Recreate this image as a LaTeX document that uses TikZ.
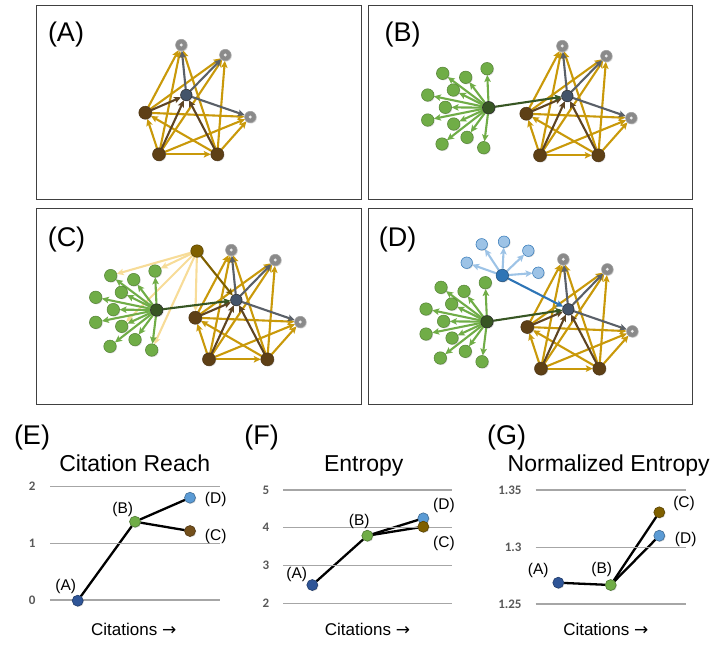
\documentclass[tikz,border=0pt]{standalone}
\usepackage{fontspec}
\setmainfont{Liberation Sans}
\newfontfamily\tickfont{Carlito}
\newfontfamily\symfont{DejaVu Sans}
\usetikzlibrary{arrows.meta,shadows}
\pgfdeclarelayer{pale}
\pgfdeclarelayer{edges}
\pgfsetlayers{pale,edges,main}
\definecolor{gold}{HTML}{C9990A}
\definecolor{paleg}{HTML}{F7DC98}
\definecolor{brownN}{HTML}{5E4016}
\definecolor{brownE}{HTML}{5E4423}
\definecolor{grayE}{HTML}{5A6068}
\definecolor{grayN}{HTML}{8A8A8A}
\definecolor{cblue}{HTML}{44546A}
\definecolor{greenL}{HTML}{70AD47}
\definecolor{greenD}{HTML}{548235}
\definecolor{greenH}{HTML}{375623}
\definecolor{blueH}{HTML}{2E75B6}
\definecolor{blueD}{HTML}{1F4E79}
\definecolor{blueL}{HTML}{9DC3E6}
\definecolor{oliveT}{HTML}{7F6000}
\definecolor{ptA}{HTML}{2F5597}
\definecolor{ptB}{HTML}{70AD47}
\definecolor{ptCE}{HTML}{74501C}
\definecolor{ptC}{HTML}{7F6000}
\definecolor{ptD}{HTML}{5B9BD5}
\definecolor{boxc}{HTML}{404040}
\definecolor{gridc}{HTML}{A6A6A6}
\definecolor{tickc}{HTML}{595959}
\tikzset{
  nd/.style={circle, inner sep=0pt, outer sep=0pt, line width=0.5pt,
    drop shadow={opacity=0.3, shadow xshift=0.8pt, shadow yshift=-0.8pt}},
  cnode/.style={nd, minimum size=11.5pt, fill=cblue, draw=black!85},
  gnode/.style={nd, minimum size=11.5pt, draw=gray!75, fill=grayN,
    path picture={\fill[white!85!gray] (path picture bounding box.center) circle (1.6pt);}},
  bnode/.style={nd, minimum size=13pt, fill=brownN, draw=brownN!80!black},
  leaf/.style={nd, minimum size=12.5pt, fill=greenL, draw=greenD},
  ghub/.style={nd, minimum size=12.5pt, fill=greenH, draw=black!85},
  bhub/.style={nd, minimum size=12.5pt, fill=blueH, draw=blueD},
  bleaf/.style={nd, minimum size=11.5pt, fill=blueL, draw=blueH},
  thub/.style={nd, minimum size=12.5pt, fill=oliveT, draw=oliveT!70!black},
  arr/.style={line width=2.1pt, -{Stealth[length=7pt,width=6.5pt,inset=1.5pt]}},
  ge/.style={arr, draw=gold},
  be/.style={arr, draw=brownE},
  ke/.style={arr, draw=grayE},
  gre/.style={arr, draw=greenL},
  hube/.style={arr, draw=greenH},
  ple/.style={arr, draw=paleg},
  ole/.style={arr, draw=oliveT},
  ble/.style={arr, draw=blueL},
  bme/.style={arr, draw=blueH},
  panelbox/.style={draw=boxc, line width=0.8pt},
  plab/.style={font=\fontsize{27}{30}\selectfont, anchor=base, inner sep=0pt},
  ctitle/.style={font=\fontsize{23}{26}\selectfont, anchor=base, inner sep=0pt},
  xlab/.style={font=\fontsize{17}{20}\selectfont, anchor=base, inner sep=0pt},
  ptlab/.style={font=\fontsize{15.5}{18}\selectfont, anchor=center, inner sep=0pt},
  tick/.style={font=\tickfont\bfseries\fontsize{13}{15}\selectfont, text=tickc, anchor=east, inner sep=0pt},
  gridl/.style={draw=gridc, line width=1.2pt},
  mk/.style={circle, inner sep=0pt, outer sep=0pt, minimum size=11pt, line width=0.6pt,
    drop shadow={opacity=0.3, shadow xshift=0.8pt, shadow yshift=-0.8pt}},
  dl/.style={line width=2.3pt, draw=black},
}
\newcommand\citecluster[3]{%
  \begin{scope}[shift={(#2,#3)}]
    \node[cnode] (#1c) at (0,0) {};
    \node[gnode] (#1g1) at (-5,-50) {};
    \node[gnode] (#1g2) at (39,-40) {};
    \node[gnode] (#1g3) at (64,22) {};
    \node[bnode] (#1L) at (-41,17.7) {};
    \node[bnode] (#1BL) at (-27.3,59.3) {};
    \node[bnode] (#1BR) at (31,59.3) {};
  \end{scope}
  \begin{pgfonlayer}{edges}
    \foreach \s in {L,BL,BR}{\foreach \t in {g1,g2,g3}{\draw[ge] (#1\s) -- (#1\t);}}
    \draw[ge] (#1BL) -- (#1L);
    \draw[ge] (#1BR) -- (#1L);
    \draw[ge] (#1BL) -- (#1BR);
    \foreach \s in {L,BL,BR}{\draw[be] (#1\s) -- (#1c);}
    \foreach \t in {g1,g2,g3}{\draw[ke] (#1c) -- (#1\t);}
  \end{pgfonlayer}}
\newcommand\greenfan[3]{%
  \begin{scope}[shift={(#2,#3)}]
    \node[ghub] (#1h) at (0,0) {};
    \foreach \i/\dx/\dy in {1/-46/-34.4, 2/-23/-30.4, 3/-1.7/-39, 4/-61/-12.7,
        5/-35.4/-17.7, 6/-43.4/-0.4, 7/-61/12.3, 8/-35/16.3, 9/-21.7/29.6,
        10/-46.7/36.3, 11/-5/40}{\node[leaf] (#1l\i) at (\dx,\dy) {};}
  \end{scope}
  \begin{pgfonlayer}{edges}
    \foreach \i in {1,...,11}{\draw[gre] (#1h) -- (#1l\i);}
  \end{pgfonlayer}}
\begin{document}
\begin{tikzpicture}[x=1pt,y=-1pt]
\useasboundingbox (0,0) rectangle (727,654);
% panel boxes
\draw[panelbox] (36,5) rectangle (361,199.5);
\draw[panelbox] (368,5) rectangle (692,199.5);
\draw[panelbox] (36,208) rectangle (361,404);
\draw[panelbox] (368,208) rectangle (692,404);
\node[plab] (la) at (66,41) {(A)};
\node[plab] (lb) at (402.7,41) {(B)};
\node[plab] (lc) at (66.5,246) {(C)};
\node[plab] (ld) at (397.7,246) {(D)};
% (A)
\citecluster{a}{186.3}{95}
% (B)
\citecluster{b}{567.3}{96}
\greenfan{bf}{488.7}{107.7}
\begin{pgfonlayer}{edges}\draw[hube] (bfh) -- (bc);\end{pgfonlayer}
% (C)
\citecluster{c}{236.3}{300}
\greenfan{cf}{156.7}{310}
\node[thub] (ct) at (197,251) {};
\begin{pgfonlayer}{edges}
  \draw[hube] (cfh) -- (cc);
  \draw[ole] (ct) -- (cc);
\end{pgfonlayer}
\begin{pgfonlayer}{pale}
  \draw[ple] (ct) -- (cfl1);
  \draw[ple] (ct) -- (cfl3);
  \draw[ple] (ct) -- (cfl8);
  \draw[ple] (ct) -- (cfl11);
  \draw[ple] (ct) -- (cL);
\end{pgfonlayer}
% (D)
\citecluster{d}{568.3}{309.3}
\greenfan{df}{487}{321.7}
\node[bhub] (dbh) at (502.3,275.5) {};
\node[bleaf] (dbl1) at (481.7,244.3) {};
\node[bleaf] (dbl2) at (504,241.7) {};
\node[bleaf] (dbl3) at (528.3,250.7) {};
\node[bleaf] (dbl4) at (466.7,262.7) {};
\node[bleaf] (dbl5) at (538.3,272.7) {};
\begin{pgfonlayer}{edges}
  \draw[hube] (dfh) -- (dc);
  \foreach \i in {1,...,5}{\draw[ble] (dbh) -- (dbl\i);}
  \draw[bme] (dbh) -- (dc);
\end{pgfonlayer}
% ---------- chart (E)
\node[plab] (le) at (32,444.3) {(E)};
\node[ctitle] (te) at (134.7,471.7) {Citation Reach};
\draw[gridl] (50,486.7) -- (220,486.7);
\draw[gridl] (50,543.3) -- (220,543.3);
\draw[gridl] (50,600) -- (220,600);
\node[tick] (e2) at (35.7,486.7) {2};
\node[tick] (e1) at (35.7,543.3) {1};
\node[tick] (e0) at (35.7,600) {0};
\node[mk, fill=ptA, draw=ptA!70!black] (ea) at (77.7,600.7) {};
\node[mk, fill=ptB, draw=ptB!70!black] (eb) at (135,521.7) {};
\node[mk, fill=ptD, draw=ptD!70!black] (ed) at (190,497.7) {};
\node[mk, fill=ptCE, draw=ptCE!70!black] (ec) at (190,531) {};
\begin{pgfonlayer}{edges}
  \draw[dl] (ea) -- (eb);
  \draw[dl] (eb) -- (ed);
  \draw[dl] (eb) -- (ec);
\end{pgfonlayer}
\node[ptlab] (eal) at (65.7,586.7) {(A)};
\node[ptlab] (ebl) at (122.7,509.3) {(B)};
\node[ptlab] (edl) at (215.7,499) {(D)};
\node[ptlab] (ecl) at (215.7,536.7) {(C)};
\node[xlab] (ex) at (133.7,635) {Citations {\symfont →}};
% ---------- chart (F)
\node[plab] (lf) at (261.7,444.3) {(F)};
\node[ctitle] (tf) at (363.7,471) {Entropy};
\draw[gridl] (283.3,490) -- (452.3,490);
\draw[gridl] (283.3,527.7) -- (452.3,527.7);
\draw[gridl] (283.3,565.7) -- (452.3,565.7);
\draw[gridl] (283.3,603.3) -- (452.3,603.3);
\node[tick] (f5) at (269.3,490) {5};
\node[tick] (f4) at (269.3,527.7) {4};
\node[tick] (f3) at (269.3,565.7) {3};
\node[tick] (f2) at (269.3,603.3) {2};
\node[mk, fill=ptA, draw=ptA!70!black] (fa) at (312.3,585) {};
\node[mk, fill=ptB, draw=ptB!70!black] (fb) at (367.3,535.7) {};
\node[mk, fill=ptD, draw=ptD!70!black] (fd) at (423.3,518.3) {};
\node[mk, fill=ptC, draw=ptC!70!black] (fc) at (423.3,526.7) {};
\begin{pgfonlayer}{edges}
  \draw[dl] (fa) -- (fb);
  \draw[dl] (fb) -- (fd);
  \draw[dl] (fb) -- (fc);
\end{pgfonlayer}
\node[ptlab] (fal) at (296.7,574.3) {(A)};
\node[ptlab] (fbl) at (359.3,521.7) {(B)};
\node[ptlab] (fdl) at (444,505.7) {(D)};
\node[ptlab] (fcl) at (444,543.3) {(C)};
\node[xlab] (fx) at (367.5,635) {Citations {\symfont →}};
% ---------- chart (G)
\node[plab] (lg) at (506.7,444.3) {(G)};
\node[ctitle] (tg) at (608.7,471) {Normalized Entropy};
\draw[gridl] (535.7,490) -- (685.7,490);
\draw[gridl] (535.7,547.3) -- (685.7,547.3);
\draw[gridl] (535.7,604) -- (685.7,604);
\node[tick] (g135) at (521.7,490) {1.35};
\node[tick] (g130) at (521.7,547.3) {1.3};
\node[tick] (g125) at (521.7,604) {1.25};
\node[mk, fill=ptA, draw=ptA!70!black] (ga) at (558.3,582.7) {};
\node[mk, fill=ptB, draw=ptB!70!black] (gb) at (610.7,585) {};
\node[mk, fill=ptC, draw=ptC!70!black] (gc) at (659.3,512.3) {};
\node[mk, fill=ptD, draw=ptD!70!black] (gd) at (659.3,535.7) {};
\begin{pgfonlayer}{edges}
  \draw[dl] (ga) -- (gb);
  \draw[dl] (gb) -- (gc);
  \draw[dl] (gb) -- (gd);
\end{pgfonlayer}
\node[ptlab] (gal) at (538.3,570) {(A)};
\node[ptlab] (gbl) at (601.7,569) {(B)};
\node[ptlab] (gcl) at (684,503.3) {(C)};
\node[ptlab] (gdl) at (685.7,539.3) {(D)};
\node[xlab] (gx) at (605.8,635) {Citations {\symfont →}};
\end{tikzpicture}
\end{document}
